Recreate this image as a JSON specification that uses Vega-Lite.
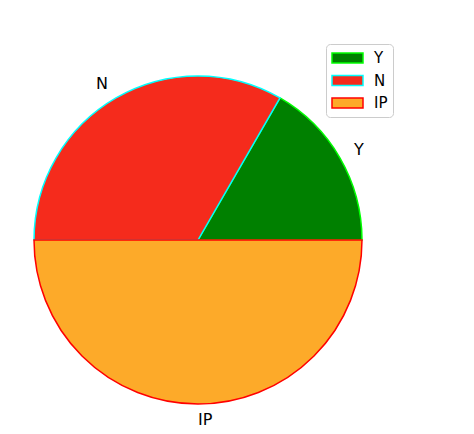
{
  "$schema": "https://vega.github.io/schema/vega-lite/v6.json",
  "width": 328,
  "height": 328,
  "autosize": {"type": "none"},
  "padding": {"left": 34, "top": 76, "right": 112, "bottom": 30},
  "background": "white",
  "view": {"stroke": null},
  "config": {"font": "DejaVu Sans", "legend": {"labelFontSize": 15, "labelFont": "DejaVu Sans"}},
  "data": {"values": [
    {"cat": "Y", "v": 1, "i": 1},
    {"cat": "N", "v": 2, "i": 2},
    {"cat": "IP", "v": 3, "i": 3}
  ]},
  "encoding": {
    "theta": {"field": "v", "type": "quantitative", "stack": true, "scale": {"range": [1.5708, -4.7124]}},
    "order": {"field": "i", "type": "quantitative"}
  },
  "layer": [
    {
      "mark": {"type": "arc", "strokeWidth": 1.5},
      "encoding": {
        "color": {
          "field": "cat", "type": "nominal",
          "scale": {"domain": ["Y", "N", "IP"], "range": ["#008000", "#f52b1c", "#fdaa29"]},
          "legend": {
            "title": null, "orient": "none", "legendX": 292, "legendY": -32,
            "symbolType": "M-1,-0.32H1V0.32H-1Z", "symbolSize": 961, "symbolStrokeWidth": 1.5,
            "labelFontSize": 15, "labelFont": "DejaVu Sans", "labelColor": "#000000", "labelOffset": 10,
            "padding": 5, "strokeColor": "#cccccc", "fillColor": "white", "cornerRadius": 4,
            "clipHeight": 18, "rowPadding": 4.5,
            "encode": {
              "symbols": {"update": {"stroke": {"scale": "stroke", "field": "value"}, "strokeWidth": {"value": 1.5}}},
              "labels": {"update": {"fontSize": {"value": 15}}}
            }
          }
        },
        "stroke": {
          "field": "cat", "type": "nominal",
          "scale": {"domain": ["Y", "N", "IP"], "range": ["#00ff00", "#00ffff", "#ff0000"]},
          "legend": null
        }
      }
    },
    {
      "mark": {"type": "text", "fontSize": 16, "font": "DejaVu Sans", "align": "left", "baseline": "middle", "color": "#000000"},
      "encoding": {
        "radius": {"value": 180},
        "text": {"condition": {"test": "datum.cat !== 'N'", "field": "cat"}, "value": ""}
      }
    },
    {
      "mark": {"type": "text", "fontSize": 16, "font": "DejaVu Sans", "align": "right", "baseline": "middle", "color": "#000000"},
      "encoding": {
        "radius": {"value": 180},
        "text": {"condition": {"test": "datum.cat === 'N'", "field": "cat"}, "value": ""}
      }
    }
  ]
}
